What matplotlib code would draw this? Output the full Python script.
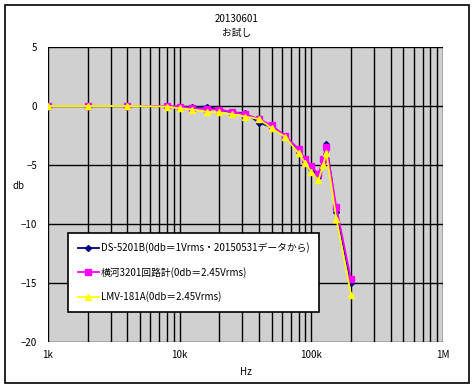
import matplotlib
matplotlib.use('Agg')
import matplotlib.pyplot as plt
from matplotlib.patches import Rectangle
from matplotlib.ticker import LogLocator, NullFormatter

plt.rcParams['font.family'] = ['Noto Sans CJK JP', 'DejaVu Sans']

# frequencies (Hz)
freq_ds = [10000, 12500, 16000, 20000, 25000, 31500, 40000, 50000, 63000, 80000,
           90000, 100000, 113000, 123000, 130000, 155000, 200000]
db_ds = [-0.05, -0.1, -0.05, -0.3, -0.55, -0.6, -1.4, -1.8, -2.55, -3.9,
         -4.7, -5.3, -6.0, -4.7, -3.2, -9.0, -15.0]

freq = [1000, 2000, 4000, 8000, 10000, 12500, 16000, 20000, 25000, 31500, 40000,
        50000, 63000, 80000, 90000, 100000, 113000, 123000, 130000, 155000, 200000]
db_yokogawa = [0, 0, 0, 0, -0.05, -0.2, -0.25, -0.3, -0.5, -0.7, -1.1,
               -1.65, -2.5, -3.65, -4.5, -5.05, -5.8, -4.5, -3.45, -8.6, -14.7]
db_lmv = [0, 0, 0, -0.05, -0.2, -0.3, -0.5, -0.55, -0.7, -0.9, -1.1,
          -1.9, -2.6, -4.0, -4.85, -5.6, -6.3, -5.0, -4.0, -9.55, -16.0]

labels = ['DS-5201B(0db＝1Vrms・20150531データから)',
          '横河3201回路計(0db＝2.45Vrms)',
          'LMV-181A(0db＝2.45Vrms)']

fig = plt.figure(figsize=(4.74, 3.89), dpi=100)
ax = fig.add_axes([48 / 474, 1 - 342 / 389, 395 / 474, 295 / 389])
ax.set_facecolor('#d0d0d0')

ax.plot(freq_ds, db_ds, color='#000080', marker='D', markersize=3, lw=1.3, label=labels[0])
ax.plot(freq, db_yokogawa, color='#ff00ff', marker='s', markersize=4, lw=1.3, label=labels[1])
ax.plot(freq, db_lmv, color='#ffff00', marker='^', markersize=5, lw=1.3, label=labels[2])

ax.set_xscale('log')
ax.set_xlim(1000, 1000000)
ax.set_ylim(-20, 5)
ax.set_xticks([1000, 10000, 100000, 1000000])
ax.set_xticklabels(['1k', '10k', '100k', '1M'])
ax.xaxis.set_minor_locator(LogLocator(base=10, subs=range(2, 10)))
ax.xaxis.set_minor_formatter(NullFormatter())
ax.set_yticks([5, 0, -5, -10, -15, -20])
ax.grid(True, which='both', axis='x', color='black', lw=1)
ax.grid(True, which='major', axis='y', color='black', lw=1)
ax.set_axisbelow(True)
ax.tick_params(which='both', length=0, labelsize=7)
ax.tick_params(axis='x', pad=6)
ax.tick_params(axis='y', pad=8)
for s in ax.spines.values():
    s.set_visible(False)

ax.set_xlabel('Hz', fontsize=7, labelpad=5)
ax.set_ylabel('db', fontsize=7, rotation=0, va='center')
ax.yaxis.set_label_coords(-0.075, 0.53)

fig.text(0.5, 1 - 19 / 389, '20130601', ha='center', va='center', fontsize=7)
fig.text(0.5, 1 - 33 / 389, 'お試し', ha='center', va='center', fontsize=7)

leg = ax.legend(loc='lower left', bbox_to_anchor=(20 / 395, 30 / 295), fontsize=7,
                fancybox=False, framealpha=1, edgecolor='black', handlelength=2.2,
                labelspacing=1.4, borderpad=1.0, handletextpad=0.2, borderaxespad=0)
leg.get_frame().set_linewidth(1.2)

fig.patches.append(Rectangle((5 / 474, 6 / 389), 464 / 474, 378 / 389, transform=fig.transFigure,
                             fill=False, edgecolor='black', lw=1.2))

fig.savefig('out.png', dpi=100)
